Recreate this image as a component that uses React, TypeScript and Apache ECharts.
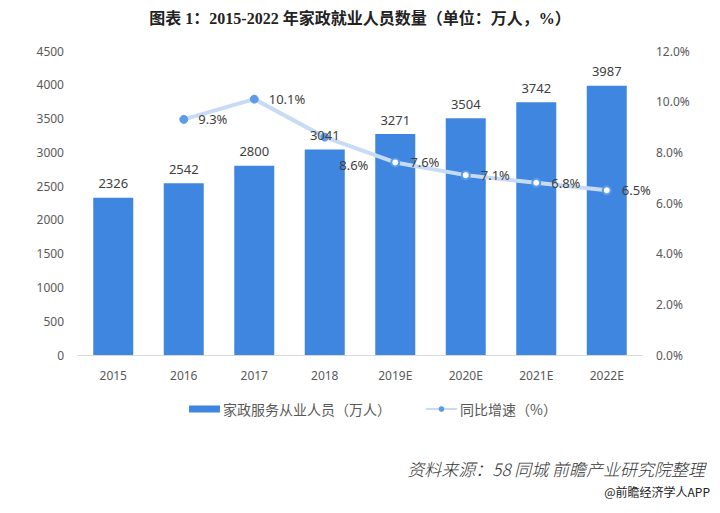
import React, { useEffect, useRef } from "react";
import * as echarts from "echarts";

const categories = ["2015", "2016", "2017", "2018", "2019E", "2020E", "2021E", "2022E"];
const workers = [2326, 2542, 2800, 3041, 3271, 3504, 3742, 3987];
const growth: (number | null)[] = [null, 9.3, 10.1, 8.6, 7.6, 7.1, 6.8, 6.5];

export default function App() {
  const ref = useRef<HTMLDivElement>(null);
  useEffect(() => {
    const chart = echarts.init(ref.current!, null, { renderer: "svg" });
    const lineData = growth.map((v, i) => {
      if (v === null) return null;
      const hollow = i >= 4;
      const item: any = {
        value: v,
        itemStyle: hollow
          ? { color: "#ffffff", borderColor: "#5b9be8", borderWidth: 2 }
          : { color: "#5b9be8", borderColor: "#5b9be8" },
      };
      if (i === 3) item.label = { offset: [0, 28] };
      return item;
    });
    const labelFont = {
      color: "#404040",
      fontSize: 13,
      fontFamily: "'Noto Sans', sans-serif",
    };
    chart.setOption({
      animation: false,
      title: {
        text: "图表 1：2015-2022 年家政就业人员数量（单位：万人，%）",
        left: "center",
        top: 5,
        textStyle: {
          fontFamily: "'Liberation Serif', 'Noto Sans CJK SC', serif",
          fontSize: 16,
          fontWeight: "bold",
          color: "#222",
        },
      },
      legend: {
        top: 397,
        left: 184,
        itemWidth: 31,
        itemHeight: 7,
        itemGap: 34,
        textStyle: {
          fontFamily: "'Noto Sans CJK SC', sans-serif",
          fontSize: 14,
          color: "#595959",
          padding: [0, 0, 0, -2],
        },
        data: [
          { name: "家政服务从业人员（万人）", icon: "rect" },
          { name: "同比增速（%）" },
        ],
      },
      grid: { left: 78, right: 78, top: 51, bottom: 158, containLabel: false },
      xAxis: {
        type: "category",
        data: categories,
        axisLine: { lineStyle: { color: "#d9d9d9" } },
        axisTick: { show: false },
        axisLabel: { color: "#595959", fontSize: 12, margin: 14, fontFamily: "'Noto Sans', sans-serif" },
      },
      yAxis: [
        {
          type: "value",
          min: 0,
          max: 4500,
          interval: 500,
          splitLine: { show: false },
          axisLine: { show: false },
          axisTick: { show: false },
          axisLabel: {
            color: "#595959",
            fontSize: 12,
            margin: 14,
            fontFamily: "'Noto Sans', sans-serif",
            formatter: (v: number) => String(v),
          },
        },
        {
          type: "value",
          min: 0,
          max: 12,
          interval: 2,
          splitLine: { show: false },
          axisLine: { show: false },
          axisTick: { show: false },
          axisLabel: {
            color: "#595959",
            fontSize: 12,
            margin: 14,
            fontFamily: "'Noto Sans', sans-serif",
            formatter: (v: number) => v.toFixed(1) + "%",
          },
        },
      ],
      series: [
        {
          name: "家政服务从业人员（万人）",
          type: "bar",
          data: workers,
          barWidth: 40,
          itemStyle: { color: "#3f86e0" },
          z: 2,
        },
        {
          name: "同比增速（%）",
          type: "line",
          yAxisIndex: 1,
          data: lineData,
          connectNulls: false,
          symbol: "circle",
          symbolSize: 8,
          lineStyle: { color: "#c8dbf5", width: 4 },
          itemStyle: { color: "#5b9be8" },
          label: {
            show: true,
            position: "right",
            distance: 10,
            ...labelFont,
            formatter: (p: any) => p.value.toFixed(1) + "%",
          },
          z: 5,
        },
        {
          name: "barLabels",
          type: "bar",
          data: workers,
          barWidth: 40,
          barGap: "-100%",
          itemStyle: { color: "rgba(0,0,0,0)" },
          label: { show: true, position: "top", distance: 8, ...labelFont },
          silent: true,
          z: 10,
        },
      ],
      graphic: [
        {
          type: "text",
          right: 15,
          top: 460,
          style: {
            text: "资料来源：58 同城 前瞻产业研究院整理",
            font: "italic 300 17px 'Noto Sans CJK SC', sans-serif",
            fill: "#333",
          },
        },
        {
          type: "text",
          right: 10,
          top: 485,
          style: {
            text: "@前瞻经济学人APP",
            font: "12px 'Noto Sans CJK SC', sans-serif",
            fill: "#222",
          },
        },
      ],
    });
    return () => chart.dispose();
  }, []);
  return <div ref={ref} style={{ width: 720, height: 513, position: "absolute", left: 0, top: 0 }} />;
}
